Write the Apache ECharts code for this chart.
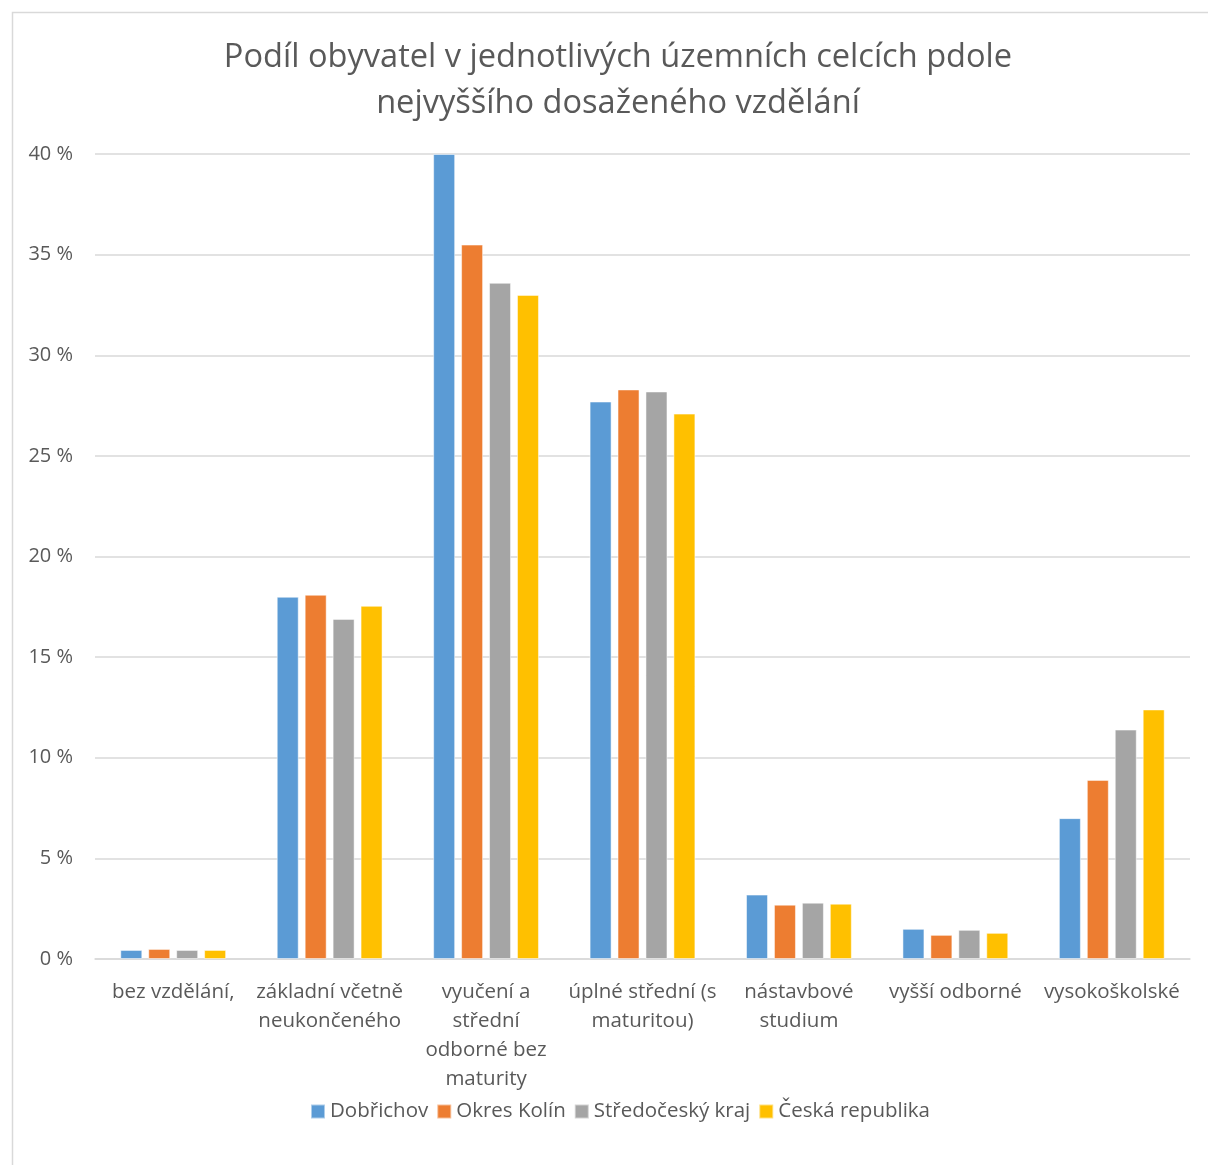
<!DOCTYPE html>
<html><head><meta charset="utf-8">
<script src="https://cdn.jsdelivr.net/npm/echarts@6/dist/echarts.min.js"></script>
<style>html,body{margin:0;padding:0;background:#fff}#c{width:1208px;height:1165px}</style>
</head><body><div id="c"></div>
<script>
const categories = ["bez vzdělání,", "základní včetně\nneukončeného", "vyučení a\nstřední\nodborné bez\nmaturity", "úplné střední (s\nmaturitou)", "nástavbové\nstudium", "vyšší odborné", "vysokoškolské"];
const seriesNames = ["Dobřichov", "Okres Kolín", "Středočeský kraj", "Česká republika"];
const dobrichov = [0.45, 18.0, 40.0, 27.7, 3.2, 1.5, 7.0];
const okresKolin = [0.5, 18.1, 35.5, 28.3, 2.7, 1.2, 8.9];
const stredocesky = [0.45, 16.9, 33.6, 28.2, 2.8, 1.45, 11.4];
const ceskaRepublika = [0.45, 17.55, 33.0, 27.1, 2.75, 1.3, 12.4];
const colors = ["#5b9bd5", "#ed7d31", "#a5a5a5", "#ffc000"];
const font = "'Open Sans', 'DejaVu Sans', sans-serif";

const chart = echarts.init(document.getElementById('c'));
const data = [dobrichov, okresKolin, stredocesky, ceskaRepublika];
chart.setOption({
  animation: false,
  color: colors,
  graphic: [{type:'rect', left:10, top:10, shape:{width:1220, height:1180}, style:{fill:'none', stroke:'#d9d9d9', lineWidth:1.5}, silent:true}],
  title: {
    text: "Podíl obyvatel v jednotlivých územních celcích pdole\nnejvyššího dosaženého vzdělání",
    left: 613, top: 30, textAlign: 'center',
    textStyle: {fontFamily: font, fontSize: 32.6, fontWeight: 'normal', color: '#595959', lineHeight: 46}
  },
  legend: {
    bottom: 38, left: 305,
    itemWidth: 14, itemHeight: 14, itemGap: 8,
    icon: 'rect',
    textStyle: {fontFamily: font, fontSize: 20.5, color: '#595959'},
    data: seriesNames
  },
  grid: {left: 95, right: 18, top: 154, bottom: 206, containLabel: false},
  xAxis: {
    type: 'category', data: categories,
    axisLine: {lineStyle: {color: '#d9d9d9', width: 1.5}},
    axisTick: {show: false},
    axisLabel: {fontFamily: font, fontSize: 20.5, color: '#595959', lineHeight: 29, margin: 19, interval: 0, verticalAlign:'top'}
  },
  yAxis: {
    type: 'value', min: 0, max: 40, interval: 5,
    axisLine: {show: false}, axisTick: {show: false},
    axisLabel: {formatter: '{value} %', fontFamily: font, fontSize: 20, color: '#595959', margin: 22},
    splitLine: {lineStyle: {color: '#d9d9d9', width: 1.5}}
  },
  series: seriesNames.map((n, i) => ({
    name: n, type: 'bar', data: data[i],
    barWidth: 22, barGap: '27%',
    itemStyle: {borderColor: 'rgba(255,255,255,0.5)', borderWidth: 1}
  }))
});
</script></body></html>
